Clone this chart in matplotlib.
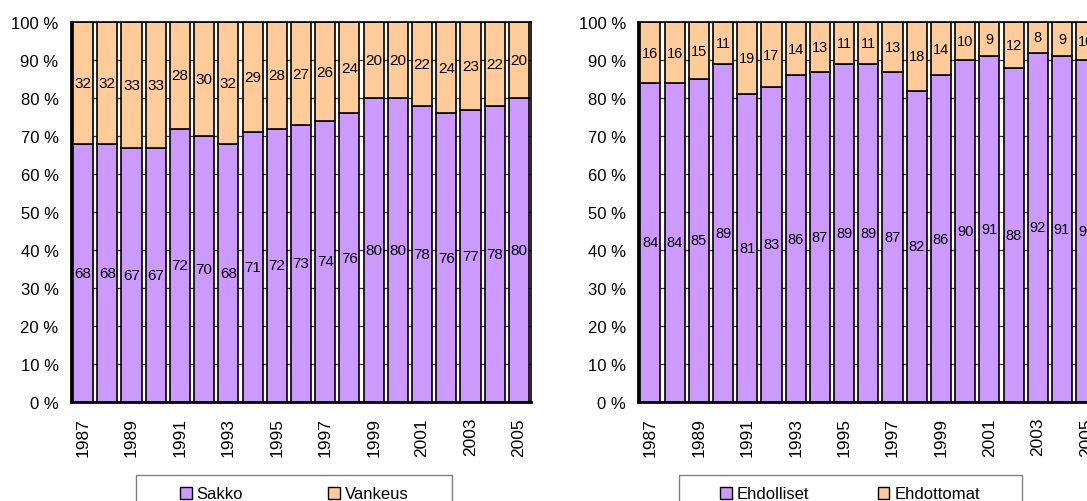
import matplotlib.pyplot as plt
from matplotlib.patches import Rectangle, Patch

years = list(range(1987, 2006))
sakko = [68, 68, 67, 67, 72, 70, 68, 71, 72, 73, 74, 76, 80, 80, 78, 76, 77, 78, 80]
vankeus = [32, 32, 33, 33, 28, 30, 32, 29, 28, 27, 26, 24, 20, 20, 22, 24, 23, 22, 20]
ehdolliset = [84, 84, 85, 89, 81, 83, 86, 87, 89, 89, 87, 82, 86, 90, 91, 88, 92, 91, 90]
ehdottomat = [16, 16, 15, 11, 19, 17, 14, 13, 11, 11, 13, 18, 14, 10, 9, 12, 8, 9, 10]
y_ticks = [0, 10, 20, 30, 40, 50, 60, 70, 80, 90, 100]
y_labels = [f'{t} %' for t in y_ticks]

purple = '#CC99FF'
orange = '#FFCC99'
plt.rcParams['font.family'] = ['Liberation Sans', 'DejaVu Sans']

W, H = 1087, 502
fig = plt.figure(figsize=(W / 100, H / 100), dpi=100)

def draw_panel(ax, low, high, label_font):
    x = list(range(len(years)))
    ax.set_axisbelow(True)
    ax.grid(axis='y', color='#333333', linewidth=0.9)
    ax.bar(x, low, width=0.83, color=purple, edgecolor='black', linewidth=1.2, zorder=2)
    ax.bar(x, high, bottom=low, width=0.83, color=orange, edgecolor='black', linewidth=1.2, zorder=2)
    for i in x:
        ax.text(i, low[i] / 2, str(low[i]), ha='center', va='center', fontsize=label_font, zorder=3)
        ax.text(i, low[i] + high[i] / 2, str(high[i]), ha='center', va='center', fontsize=label_font, zorder=3)
    ax.set_xlim(-0.5, len(years) - 0.5)
    ax.set_ylim(0, 100)
    ax.set_yticks(y_ticks)
    ax.set_yticklabels(y_labels, fontsize=12)
    ax.set_xticks(x[::2])
    ax.set_xticklabels([str(y) for y in years[::2]], rotation=90, fontsize=12.5)
    ax.tick_params(axis='y', length=0, pad=9)
    ax.tick_params(axis='x', length=0, pad=11)
    for s in ax.spines.values():
        s.set_color('black')
        s.set_linewidth(1.2)
        s.set_zorder(4)
    ax.spines['left'].set_linewidth(2)
    ax.spines['bottom'].set_linewidth(2)

ax1 = fig.add_axes([71 / W, (H - 402.7) / H, 460 / W, 379.4 / H])
draw_panel(ax1, sakko, vankeus, 11)

# right panel runs past the figure edge, as in the original
ax2 = fig.add_axes([638.3 / W, (H - 402.7) / H, 460 / W, 379.4 / H])
draw_panel(ax2, ehdolliset, ehdottomat, 10.5)

# legend boxes (bottom is cut by the figure edge)
def legend_box(x0, x1, names, text_x, spacing):
    fig.add_artist(Rectangle((x0 / W, -0.05), (x1 - x0) / W, (H - 476) / H + 0.05,
                             transform=fig.transFigure, fill=False, edgecolor='#808080', linewidth=1))
    handles = [Patch(facecolor=purple, edgecolor='black', linewidth=1),
               Patch(facecolor=orange, edgecolor='black', linewidth=1)]
    fig.legend(handles, names, ncol=2, frameon=False, loc='center left',
               bbox_to_anchor=(text_x / W, (H - 495) / H), fontsize=12,
               handlelength=0.7, handleheight=0.7, handletextpad=0.3,
               columnspacing=spacing, borderpad=0, borderaxespad=0)

legend_box(136, 452, ['Sakko', 'Vankeus'], 180, 5.1)
legend_box(679, 1021.5, ['Ehdolliset', 'Ehdottomat'], 720, 4.1)

plt.savefig('out.png', dpi=100, facecolor='white')
